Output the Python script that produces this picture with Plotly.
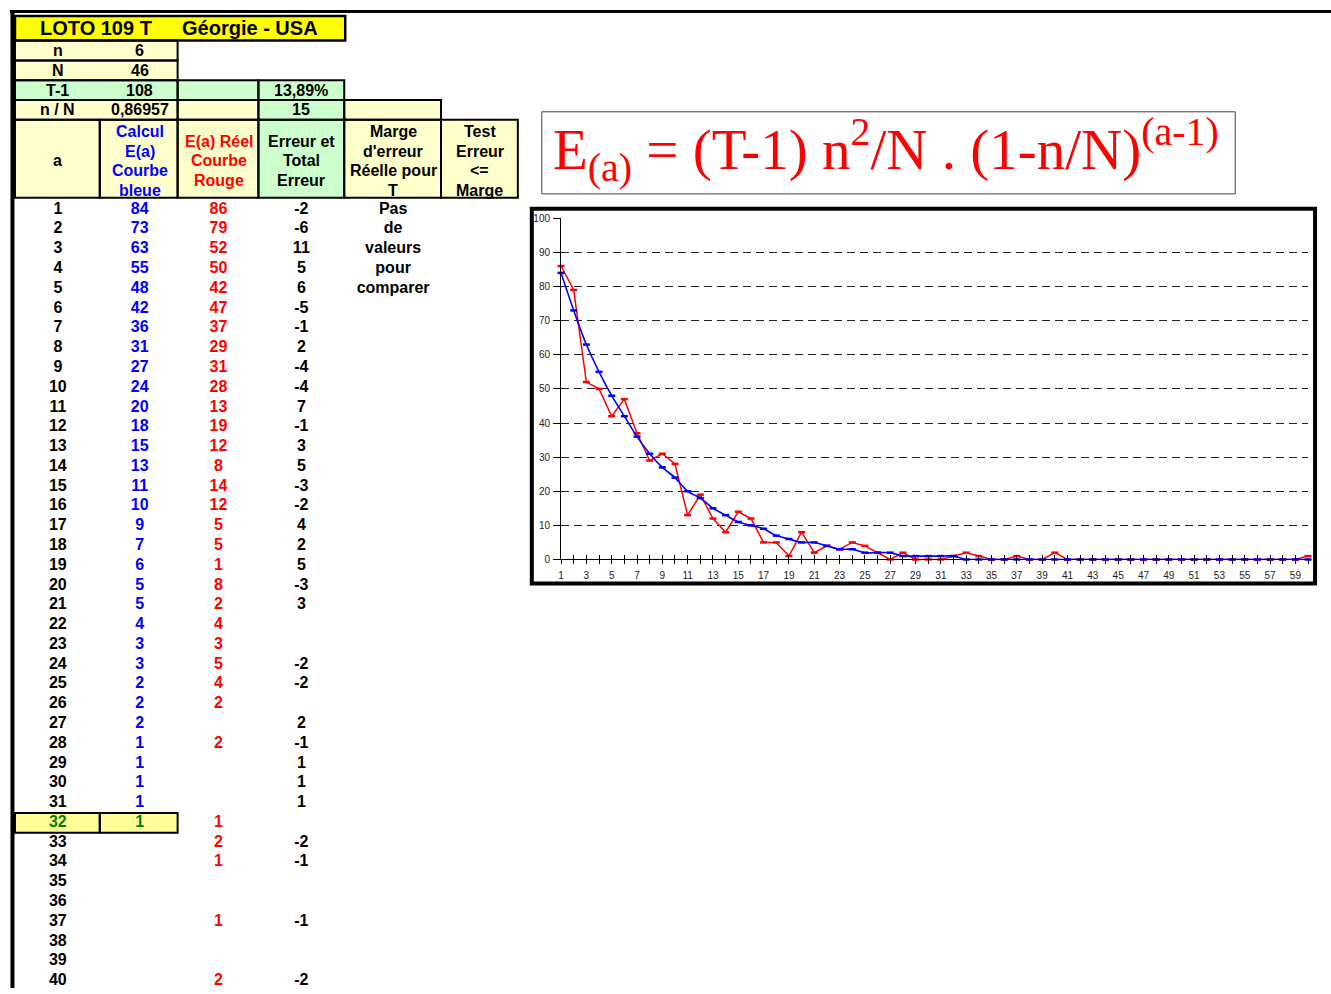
import plotly.graph_objects as go

# ---------------- data ----------------
a_index = list(range(1, 61))
blue_calc = [84, 73, 63, 55, 48, 42, 36, 31, 27, 24,
             20, 18, 15, 13, 11, 10, 9, 7, 6, 5,
             5, 4, 3, 3, 2, 2, 2, 1, 1, 1,
             1, 1] + [0] * 28
red_real = [86, 79, 52, 50, 42, 47, 37, 29, 31, 28,
            13, 19, 12, 8, 14, 12, 5, 5, 1, 8,
            2, 4, 3, 5, 4, 2, 0, 2, 0, 0,
            0, 1, 2, 1, 0, 0, 1, 0, 0, 2] + [0] * 19 + [1]
error_col = [-2, -6, 11, 5, 6, -5, -1, 2, -4, -4,
             7, -1, 3, 5, -3, -2, 4, 2, 5, -3,
             3, None, None, -2, -2, None, 2, -1, 1, 1,
             1, None, -2, -1, None, None, -1, None, None, -2]
table_rows = list(range(1, 41))
highlight_row = 32
param_labels = ["n", "N", "T-1", "n / N"]
param_values = ["6", "46", "108", "0,86957"]
pct_text = "13,89%"
marge_text = "15"
note_words = ["Pas", "de", "valeurs", "pour", "comparer"]
title_left = "LOTO 109 T"
title_right = "Géorgie - USA"
header_a = ["a"]
header_blue = ["Calcul", "E(a)", "Courbe", "bleue"]
header_red = ["E(a) Réel", "Courbe", "Rouge"]
header_err = ["Erreur et", "Total", "Erreur"]
header_marge = ["Marge", "d'erreur", "Réelle pour", "T"]
header_test = ["Test", "Erreur", "<=", "Marge"]
x_label_vals = [v for v in a_index if v % 2 == 1]
x_minor_vals = [v for v in a_index if v % 2 == 0]

# ---------------- styles ----------------
W, H = 1331, 994
BLUE, RED, GREEN_T = "#0000FF", "#FF0000", "#008000"
YEL, LYEL, LGRN, HYEL = "#FFFF00", "#FFFFCC", "#CCFFCC", "#FFFF99"
SANS = "Liberation Sans, Arial, sans-serif"
FS = 16


def row_y(a):
    return 207 + (a - 1) * 20


fig = go.Figure()

# ---------------- chart ----------------
fig.add_trace(go.Scatter(
    x=a_index, y=red_real, mode="lines+markers",
    line=dict(color=RED, width=1.5),
    marker=dict(symbol="line-ew", size=5, line=dict(color=RED, width=2.5)),
    cliponaxis=False, showlegend=False, xaxis="x", yaxis="y"))
fig.add_trace(go.Scatter(
    x=a_index, y=blue_calc, mode="lines+markers",
    line=dict(color=BLUE, width=1.6, shape="spline", smoothing=0.8),
    marker=dict(symbol="line-ew", size=5, line=dict(color=BLUE, width=2.5)),
    cliponaxis=False, showlegend=False, xaxis="x", yaxis="y"))
fig.add_trace(go.Scatter(x=[1, 60], y=[None, None], xaxis="x2", yaxis="y",
                         showlegend=False, hoverinfo="skip"))

# ---------------- sheet text ----------------
def text_trace(xc, rows, texts, colors):
    fig.add_trace(go.Scatter(
        x=[xc] * len(rows), y=[row_y(r) for r in rows], text=texts,
        mode="text", textposition="middle center",
        textfont=dict(family=SANS, size=FS, color=colors, weight="bold"),
        xaxis="x3", yaxis="y3", showlegend=False, hoverinfo="skip",
        cliponaxis=False))


text_trace(55, table_rows, [str(r) for r in table_rows],
           [GREEN_T if r == highlight_row else "black" for r in table_rows])
b_rows = [r for r in table_rows if blue_calc[r - 1] != 0]
text_trace(137, b_rows, [str(blue_calc[r - 1]) for r in b_rows],
           [GREEN_T if r == highlight_row else BLUE for r in b_rows])
r_rows = [r for r in table_rows if red_real[r - 1] != 0]
text_trace(216, r_rows, [str(red_real[r - 1]) for r in r_rows],
           [RED] * len(r_rows))
e_rows = [r for r in table_rows if error_col[r - 1] is not None]
text_trace(299, e_rows, [str(error_col[r - 1]) for r in e_rows],
           ["black"] * len(e_rows))
text_trace(391, list(range(1, len(note_words) + 1)), note_words,
           ["black"] * len(note_words))

# ---------------- sheet shapes ----------------
shapes = []


def cell(x0, y0, x1, y1, fill, lw=2):
    shapes.append(dict(type="rect", xref="x3", yref="y3", x0=x0, y0=y0, x1=x1, y1=y1,
                       fillcolor=fill, line=dict(width=0), layer="below"))
    shapes.append(dict(type="rect", xref="x3", yref="y3", x0=x0, y0=y0, x1=x1, y1=y1,
                       line=dict(color="black", width=lw), layer="above"))


cell(12, 11, 343, 36, YEL, 2.5)
cell(12, 36, 175, 56, LYEL)
cell(12, 56, 175, 76, LYEL)
cell(12, 76, 175, 96, LGRN)
cell(175, 76, 256, 96, LGRN)
cell(256, 76, 342, 96, LGRN)
cell(12, 96, 175, 116, LYEL)
cell(175, 96, 256, 116, LYEL)
cell(256, 96, 342, 116, LGRN)
cell(342, 96, 439, 116, LYEL)
for x0, x1, f in [(12, 97, LYEL), (97, 175, LYEL), (175, 256, LYEL),
                  (256, 342, LGRN), (342, 439, LYEL), (439, 516, LYEL)]:
    cell(x0, 116, x1, 195, f)
cell(12, 817, 97, 837, HYEL)
cell(97, 817, 175, 837, HYEL)

# page frame lines
shapes.append(dict(type="line", xref="x3", yref="y3", x0=7, y0=6.5, x1=W, y1=6.5,
                   line=dict(color="black", width=3)))
shapes.append(dict(type="line", xref="x3", yref="y3", x0=9.5, y0=5, x1=9.5, y1=H,
                   line=dict(color="black", width=4)))
# chart frame
shapes.append(dict(type="rect", xref="x3", yref="y3", x0=530, y0=206, x1=1315, y1=585,
                   line=dict(color="black", width=4)))
# formula box
shapes.append(dict(type="rect", xref="x3", yref="y3", x0=540, y0=108, x1=1235, y1=191,
                   line=dict(color="#444444", width=1)))

# ---------------- annotations ----------------
ann = []


def label(x, y, t, color="black", size=FS):
    ann.append(dict(xref="x3", yref="y3", x=x, y=y, text=t, showarrow=False,
                    xanchor="center", yanchor="middle",
                    font=dict(family=SANS, size=size, color=color, weight="bold")))


def header(x, lines, color="black"):
    n = len(lines)
    y0 = 128 if n == 4 else (138 if n == 3 else 157)
    for i, t in enumerate(lines):
        label(x, y0 + i * 19.7, t, color)


label(93, 23.5, title_left, size=20)
label(248, 23.5, title_right, size=20)
for i, (lab, val) in enumerate(zip(param_labels, param_values)):
    label(55, 46 + 20 * i, lab)
    label(137, 46 + 20 * i, val)
label(299, 86, pct_text)
label(299, 106, marge_text)
header(55, header_a)
header(137, header_blue, BLUE)
header(216, header_red, RED)
header(299, header_err)
header(391, header_marge)
header(478, header_test)

ann.append(dict(xref="x3", yref="y3", x=549, y=146, xanchor="left", yanchor="middle",
                showarrow=False,
                text="E<sub>(a)</sub> = (T-1) n<sup>2</sup>/N . (1-n/N)<sup>(a-1)</sup>",
                font=dict(family="Liberation Serif, Times New Roman, serif", size=57,
                          color=RED)))

# ---------------- layout ----------------
xdom = [559.3 / W, 1308 / W]
ydom = [1 - 560.7 / H, 1 - 215.7 / H]
tickfont = dict(family=SANS, size=10, color="#222222")

fig.update_layout(
    width=W, height=H, autosize=False,
    margin=dict(l=0, r=0, t=0, b=0, pad=0),
    paper_bgcolor="white", plot_bgcolor="rgba(0,0,0,0)",
    shapes=shapes, annotations=ann,
    xaxis=dict(domain=xdom, range=[1, 60], anchor="y", tickmode="array",
               tickvals=x_label_vals, ticktext=[str(v) for v in x_label_vals],
               ticks="outside", ticklen=4,
               tickcolor="black", tickwidth=1, showline=True, linecolor="black",
               linewidth=1, showgrid=False, zeroline=False, tickfont=tickfont,
               ticklabelstandoff=3, fixedrange=True,
               minor=dict(tickmode="array", tickvals=x_minor_vals, ticks="outside",
                          ticklen=4, tickcolor="black", tickwidth=1, showgrid=False)),
    xaxis2=dict(overlaying="x", range=[1, 60], anchor="y", side="bottom",
                tickmode="array", tickvals=a_index, ticks="inside", ticklen=4,
                tickcolor="black", tickwidth=1, showticklabels=False,
                showline=False, showgrid=False, zeroline=False),
    yaxis=dict(domain=ydom, range=[0, 100], anchor="x", dtick=10, ticks="outside",
               ticklen=7, tickcolor="black", showline=True, linecolor="black",
               linewidth=1, showgrid=True, gridcolor="#222222", gridwidth=1,
               griddash="8px,5px", zeroline=False, tickfont=tickfont,
               ticklabelstandoff=1, fixedrange=True),
    xaxis3=dict(domain=[0, 1], range=[0, W], visible=False, anchor="y3",
                fixedrange=True),
    yaxis3=dict(domain=[0, 1], range=[H, 0], visible=False, anchor="x3",
                fixedrange=True),
)

fig.write_html("out.html")
